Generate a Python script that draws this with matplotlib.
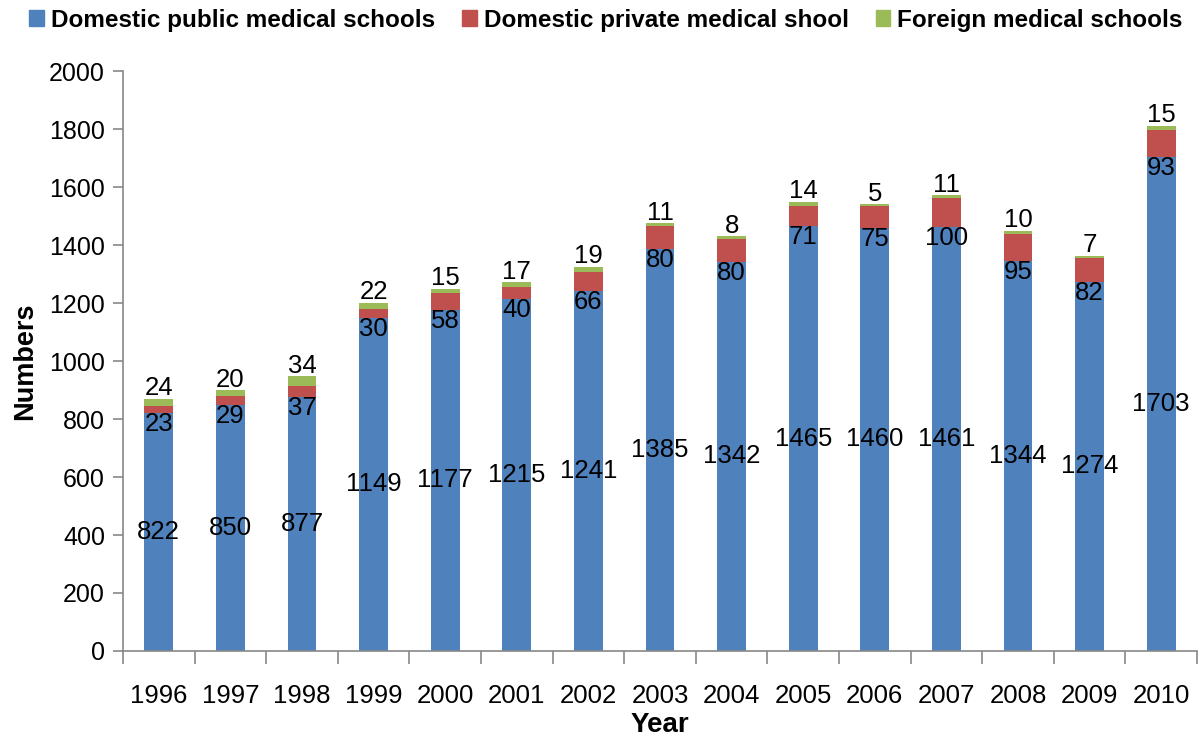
import matplotlib.pyplot as plt
import numpy as np
from matplotlib.patches import Patch

years = ['1996', '1997', '1998', '1999', '2000', '2001', '2002', '2003',
         '2004', '2005', '2006', '2007', '2008', '2009', '2010']
public = [822, 850, 877, 1149, 1177, 1215, 1241, 1385, 1342, 1465, 1460, 1461, 1344, 1274, 1703]
private = [23, 29, 37, 30, 58, 40, 66, 80, 80, 71, 75, 100, 95, 82, 93]
foreign = [24, 20, 34, 22, 15, 17, 19, 11, 8, 14, 5, 11, 10, 7, 15]

names = ['Domestic public medical schools', 'Domestic private medical shool',
         'Foreign medical schools']
colors = ['#4F81BD', '#C0504D', '#9BBB59']

plt.rcParams['font.family'] = ['Liberation Sans', 'DejaVu Sans']

fig = plt.figure(figsize=(12, 7.41), dpi=100)
ax = fig.add_axes([0.1025, 0.1215, 0.895, 0.7825])

x = np.arange(len(years))
pub = np.array(public)
pri = np.array(private)
fo = np.array(foreign)
w = 0.4
ax.bar(x, pub, w, color=colors[0])
ax.bar(x, pri, w, bottom=pub, color=colors[1])
ax.bar(x, fo, w, bottom=pub + pri, color=colors[2])

for i in x:
    ax.text(i, pub[i] / 2, str(pub[i]), ha='center', va='center', fontsize=18.5)
    ax.text(i, pub[i] - 38, str(pri[i]), ha='center', va='center', fontsize=18.5)
    ax.text(i, pub[i] + pri[i] + fo[i] - 5, str(fo[i]), ha='center', va='bottom', fontsize=18.5)

ax.set_xlim(-0.5, len(years) - 0.5)
ax.set_ylim(0, 2000)
ax.set_yticks(range(0, 2001, 200))
ax.set_xticks(x)
ax.set_xticklabels(years)
ax.set_xticks(np.arange(-0.5, len(years)), minor=True)
ax.tick_params(axis='x', which='major', length=0, pad=24, labelsize=18.5)
ax.tick_params(axis='x', which='minor', length=9, color='#888888', width=1.2)
ax.tick_params(axis='y', length=7, color='#888888', width=1.2, labelsize=18, pad=6)

for s in ['top', 'right']:
    ax.spines[s].set_visible(False)
for s in ['left', 'bottom']:
    ax.spines[s].set_color('#888888')
    ax.spines[s].set_linewidth(1.2)

ax.set_xlabel('Year', fontsize=20, fontweight='bold', labelpad=3)
ax.set_ylabel('Numbers', fontsize=19.5, fontweight='bold', labelpad=8)

handles = [Patch(color=c, label=n) for c, n in zip(colors, names)]
fig.legend(handles=handles, loc='upper center', bbox_to_anchor=(0.505, 1.018), ncol=3,
           frameon=False, prop={'size': 17.5, 'weight': 'bold'}, handlelength=0.6,
           handleheight=0.6, handletextpad=0.3, columnspacing=1.1)

fig.savefig('out.png', dpi=100)
